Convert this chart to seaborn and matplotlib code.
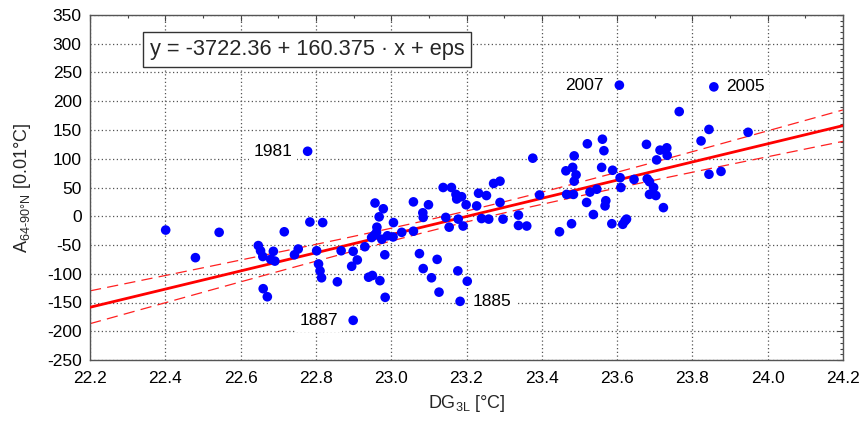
import numpy as np
import pandas as pd
import matplotlib
matplotlib.use("Agg")
import matplotlib.pyplot as plt
import seaborn as sns

# ---- data ----
dg3l = [22.401, 22.480, 22.543, 22.647, 22.653, 22.659, 22.687, 22.680, 22.691, 22.660,
        22.671, 22.716, 22.778, 22.784, 22.818, 22.743, 22.753, 22.802, 22.807, 22.811,
        22.815, 22.857, 22.867, 22.899, 22.895, 22.910, 22.899, 22.930, 22.940, 22.950,
        22.970, 22.984, 22.983, 22.957, 22.979, 22.968, 22.962, 22.948, 22.955, 22.975,
        22.990, 22.961, 23.006, 23.005, 23.028, 23.059, 23.059, 23.084, 23.085, 23.099,
        23.075, 23.085, 23.107, 23.127, 23.122, 23.138, 23.160, 23.172, 23.174, 23.187,
        23.199, 23.145, 23.154, 23.178, 23.191, 23.177, 23.202, 23.183, 23.227, 23.232,
        23.253, 23.240, 23.259, 23.272, 23.289, 23.289, 23.297, 23.338, 23.338, 23.360,
        23.376, 23.394, 23.447, 23.479, 23.464, 23.482, 23.486, 23.491, 23.486, 23.466,
        23.484, 23.521, 23.561, 23.565, 23.559, 23.588, 23.519, 23.528, 23.546, 23.537,
        23.570, 23.568, 23.586, 23.606, 23.608, 23.610, 23.615, 23.621, 23.625, 23.645,
        23.678, 23.680, 23.686, 23.697, 23.686, 23.703, 23.723, 23.705, 23.714, 23.732,
        23.733, 23.765, 23.823, 23.844, 23.857, 23.844, 23.876, 23.948]
a6490 = [-24, -72, -28, -51, -60, -70, -61, -75, -78, -126,
         -140, -27, 113, -10, -11, -67, -57, -60, -83, -95,
         -107, -114, -60, -61, -87, -76, -181, -53, -106, -103,
         -112, -141, -67, 23, 13, -1, -19, -37, -33, -40,
         -34, -28, -11, -36, -28, 25, -26, 6, -2, 20,
         -65, -91, -107, -132, -75, 50, 50, 38, 30, 34,
         20, -2, -19, -5, -17, -95, -113, -148, 18, 40,
         36, -4, -5, 57, 61, 24, -5, 2, -16, -17,
         101, 37, -27, -13, 79, 85, 105, 72, 61, 38,
         38, 126, 134, 114, 85, 80, 24, 42, 47, 3,
         27, 18, -13, 228, 67, 50, -14, -8, -5, 64,
         125, 65, 60, 50, 38, 36, 15, 98, 115, 119,
         106, 182, 131, 151, 225, 73, 78, 146]

label_years = ["1981", "1887", "1885", "2007", "2005"]
label_x = [22.778, 22.899, 23.183, 23.606, 23.857]
label_y = [113, -181, -148, 228, 225]
label_side = ["left", "left", "right", "left", "right"]

equation = "y = -3722.36 + 160.375 \u00b7 x + eps"
x_ticks = [22.2, 22.4, 22.6, 22.8, 23.0, 23.2, 23.4, 23.6, 23.8, 24.0, 24.2]
y_ticks = list(range(-250, 351, 50))

df = pd.DataFrame({"DG3L": dg3l, "A": a6490})

# ---- regression and 95% confidence band ----
x = np.asarray(dg3l, float)
y = np.asarray(a6490, float)
n = len(x)
b1, b0 = np.polyfit(x, y, 1)
resid = y - (b0 + b1 * x)
s = np.sqrt(np.sum(resid ** 2) / (n - 2))
xbar = x.mean()
sxx = np.sum((x - xbar) ** 2)
xx = np.linspace(x_ticks[0], x_ticks[-1], 200)
yy = b0 + b1 * xx
se = s * np.sqrt(1.0 / n + (xx - xbar) ** 2 / sxx)
tval = 1.979
fit = pd.DataFrame({"x": xx, "fit": yy, "lo": yy - tval * se, "hi": yy + tval * se})

# ---- plotting ----
sns.set_style("white")
plt.rcParams["font.family"] = ["Liberation Sans", "DejaVu Sans"]
plt.rcParams["mathtext.fontset"] = "custom"
plt.rcParams["mathtext.rm"] = "Liberation Sans"

fig = plt.figure(figsize=(8.63, 4.21), dpi=100)
ax = fig.add_axes([90 / 863, 1 - 360 / 421, (843 - 90) / 863, (360 - 15) / 421])

ax.grid(True, which="major", color="#555555", linestyle=(0, (1, 2)), linewidth=0.9)
ax.set_axisbelow(True)

sns.lineplot(data=fit, x="x", y="hi", ax=ax, color="#ff2020", linewidth=0.9,
             linestyle=(0, (9, 5)), zorder=2)
sns.lineplot(data=fit, x="x", y="lo", ax=ax, color="#ff2020", linewidth=0.9,
             linestyle=(0, (9, 5)), zorder=2)
sns.lineplot(data=fit, x="x", y="fit", ax=ax, color="#ff0000", linewidth=2.0, zorder=3)

sns.scatterplot(data=df, x="DG3L", y="A", ax=ax, color="#0000ff", s=48,
                edgecolor="none", linewidth=0, zorder=4)

for yr, lx, ly, side in zip(label_years, label_x, label_y, label_side):
    if side == "left":
        off, ha = (-11, 0), "right"
    else:
        off, ha = (9, 0), "left"
    ax.annotate(yr, xy=(lx, ly), xytext=off, textcoords="offset points",
                ha=ha, va="center", fontsize=12.5, color="black", zorder=5,
                bbox=dict(boxstyle="square,pad=0.25", fc="white", ec="none"))

ax.text(0.0797, 0.9, equation, transform=ax.transAxes, fontsize=15.7,
        ha="left", va="center", zorder=6,
        bbox=dict(boxstyle="square,pad=0.3", fc="white", ec="#333333", lw=1.0))

ax.set_xlim(x_ticks[0], x_ticks[-1])
ax.set_ylim(y_ticks[0], y_ticks[-1])
ax.set_xticks(x_ticks)
ax.set_xticklabels([f"{t:.1f}" for t in x_ticks])
ax.set_yticks(y_ticks)
ax.set_yticklabels([str(t) for t in y_ticks])
ax.xaxis.set_minor_locator(matplotlib.ticker.AutoMinorLocator(2))
ax.yaxis.set_minor_locator(matplotlib.ticker.AutoMinorLocator(5))
ax.tick_params(axis="both", which="both", direction="in", top=True, right=True,
               labelsize=12.5, colors="#444444", labelcolor="black")
ax.tick_params(axis="y", which="major", pad=6)
ax.tick_params(axis="x", which="major", pad=8)
ax.tick_params(which="major", length=4, width=0.8)
ax.tick_params(which="minor", length=2.5, width=0.8)
for sp in ax.spines.values():
    sp.set_color("#555555")
    sp.set_linewidth(1.0)

ax.set_xlabel(r"DG$_{\mathregular{3L}}$ [°C]", fontsize=13, labelpad=5)
ax.set_ylabel(r"A$_{\mathregular{64\text{-}90°N}}$ [0.01°C]", fontsize=13, labelpad=10)

fig.savefig("out.png", dpi=100)
